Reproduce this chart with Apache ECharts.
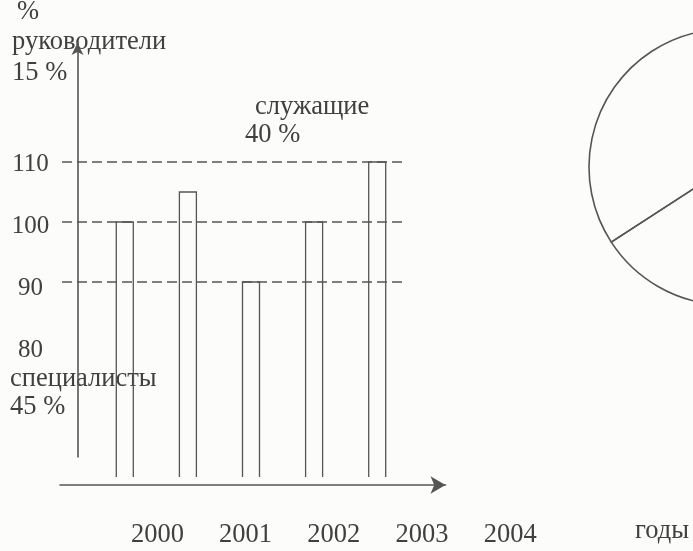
<!DOCTYPE html>
<html>
<head>
    <meta charset="UTF-8">
    <title>руководители / служащие / специалисты</title>
    <style type="text/css">
        html, body { margin: 0; height: 100%; background: #fcfcfb; }
        #main { width: 693px; height: 551px; }
    </style>
</head>
<body>
<div id="main"></div>
<script src="https://cdn.jsdelivr.net/npm/echarts@6/dist/echarts.min.js"></script>
<script>
    // данные
    var years = ['2000', '2001', '2002', '2003', '2004'];
    var values = [100, 105, 90, 100, 110];
    var levels = [90, 100, 110];          // пунктирные уровни
    var tickMin = 80, tickMax = 110, tickStep = 10;
    var shareNames = ['руководители', 'служащие', 'специалисты'];
    var shareValues = [15, 40, 45];

    var FONT = '"Liberation Serif", "Times New Roman", serif';
    var INK = '#404040';
    var LINE = '#555';
    var BAR_MIN = 57.5, BAR_MAX = 130;
    var BAR_W = 17;

    var myChart = echarts.init(document.getElementById('main'), null, { renderer: 'canvas' });

    function txt(text, x, y) {
        return {
            type: 'text', x: x, y: y, silent: true,
            style: { text: text, font: '26.5px ' + FONT, fill: INK, verticalAlign: 'middle' }
        };
    }

    // столбик без нижней стороны (открытый прямоугольник)
    function renderBar(params, api) {
        var top = api.coord([api.value(0), api.value(1)]);
        var base = api.coord([api.value(0), BAR_MIN]);
        var h = BAR_W / 2;
        return {
            type: 'polyline',
            shape: { points: [[top[0] - h, base[1]], [top[0] - h, top[1]], [top[0] + h, top[1]], [top[0] + h, base[1]]] },
            style: { stroke: LINE, lineWidth: 1.3, fill: null }
        };
    }

    var hidden = { show: false };

    var option = {
        backgroundColor: '#fcfcfb',
        animation: false,
        grid: [
            { left: 93.25, width: 315.5, top: 42, height: 435 },   // 0 столбики
            { left: 62, width: 340, top: 162, height: 120 },       // 1 пунктир
            { left: 77.5, width: 10, top: 43, height: 414 },       // 2 ось Y
            { left: 77.5, width: 10, top: 164.5, height: 185.5 },  // 3 подписи Y
            { left: 60, width: 385.5, top: 470, height: 15 },      // 4 ось X
            { left: 113.3, width: 441, top: 470, height: 15 }      // 5 подписи X
        ],
        xAxis: [
            { gridIndex: 0, type: 'category', data: years, show: false },
            { gridIndex: 1, type: 'category', data: years, show: false },
            { gridIndex: 2, type: 'value', show: false },
            { gridIndex: 3, type: 'value', show: false },
            {
                gridIndex: 4, type: 'value', min: 0, max: 1,
                axisLine: { show: true, symbol: ['none', 'arrow'], symbolSize: [13, 15],
                    lineStyle: { color: LINE, width: 1.6 } },
                axisTick: hidden, axisLabel: hidden, splitLine: hidden
            },
            {
                gridIndex: 5, type: 'category', data: years,
                axisLine: hidden, axisTick: hidden, splitLine: hidden,
                axisLabel: { margin: 37, color: INK, fontFamily: FONT, fontSize: 26.5 }
            }
        ],
        yAxis: [
            { gridIndex: 0, type: 'value', min: BAR_MIN, max: BAR_MAX, show: false },
            {
                gridIndex: 1, type: 'value', min: levels[0], max: levels[levels.length - 1], interval: 10,
                axisLine: hidden, axisTick: hidden, axisLabel: hidden,
                splitLine: { show: true, lineStyle: { color: LINE, width: 1.5, type: [10, 5] } }
            },
            {
                gridIndex: 2, type: 'value', min: 0, max: 1,
                axisLine: { show: true, symbol: ['none', 'arrow'], symbolSize: [9, 12],
                    lineStyle: { color: LINE, width: 1.6 } },
                axisTick: hidden, axisLabel: hidden, splitLine: hidden
            },
            {
                gridIndex: 3, type: 'value', min: tickMin, max: tickMax, interval: tickStep,
                axisLine: hidden, axisTick: hidden, splitLine: hidden,
                axisLabel: { margin: 47, align: 'center', color: INK, fontFamily: FONT, fontSize: 25 }
            },
            { gridIndex: 4, type: 'value', show: false },
            { gridIndex: 5, type: 'value', show: false }
        ],
        series: [
            {
                type: 'custom', xAxisIndex: 0, yAxisIndex: 0, silent: true,
                renderItem: renderBar,
                encode: { x: 0, y: 1 },
                data: values.map(function (v, i) { return [i, v]; })
            },
            {
                type: 'pie', center: [727, 167], radius: 138,
                startAngle: 267, clockwise: true, silent: true,
                label: hidden, labelLine: hidden,
                itemStyle: { color: 'rgba(0,0,0,0)', borderColor: LINE, borderWidth: 1.6 },
                data: shareNames.map(function (n, i) { return { name: n, value: shareValues[i] }; })
            }
        ],
        graphic: [
            txt('%', 17, 12.5),
            txt(shareNames[0], 12, 42),
            txt(shareValues[0] + ' %', 12, 73.5),
            txt(shareNames[1], 255, 107),
            txt(shareValues[1] + ' %', 245, 135.5),
            txt(shareNames[2], 10, 379),
            txt(shareValues[2] + ' %', 10, 407.5),
            txt('годы', 635, 531)
        ]
    };

    myChart.setOption(option);
</script>
</body>
</html>
